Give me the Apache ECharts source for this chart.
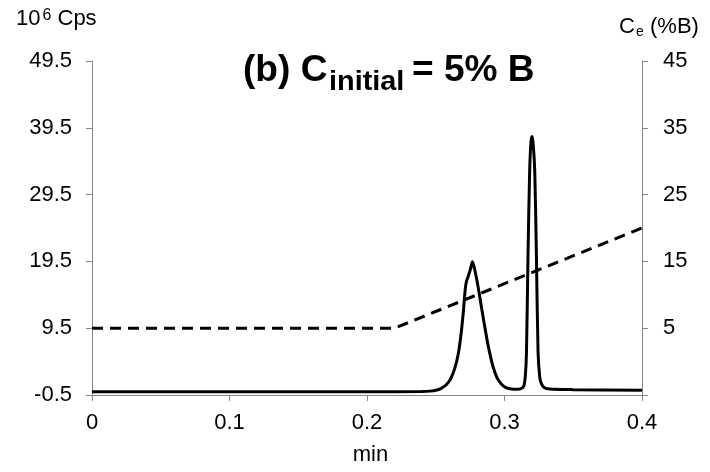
<!DOCTYPE html>
<html>
<head>
<meta charset="utf-8">
<script src="https://cdn.jsdelivr.net/npm/echarts@6/dist/echarts.min.js"></script>
<style>
  html, body { margin: 0; padding: 0; background: #fff; }
  #chart { width: 710px; height: 472px; }
</style>
</head>
<body>
<div id="chart"></div>
<script>
// Chromatogram (10^6 Cps vs min)
const timeMin = [0, 0.1, 0.2, 0.240, 0.246, 0.250, 0.254, 0.258, 0.261, 0.264, 0.2665, 0.2685, 0.2700, 0.2712, 0.2722, 0.2735, 0.2752, 0.2767, 0.2782, 0.2800, 0.2820, 0.2840, 0.2860, 0.2880, 0.2900, 0.2920, 0.2945, 0.2975, 0.3010, 0.3050, 0.3090, 0.3120, 0.3140, 0.3152, 0.3160, 0.3171, 0.3183, 0.3192, 0.3200, 0.3209, 0.3220, 0.3232, 0.3244, 0.3256, 0.3268, 0.3290, 0.3330, 0.3500, 0.4000];
const cps = [0, 0, 0, 0.02, 0.08, 0.2, 0.5, 1.1, 2.0, 3.6, 5.8, 8.8, 11.8, 14.8, 16.4, 17.2, 18.3, 19.45, 18.4, 16.6, 14.2, 11.7, 9.3, 7.0, 5.1, 3.5, 2.1, 1.2, 0.6, 0.4, 0.35, 0.45, 0.8, 2.5, 6.0, 20.5, 33.0, 37.3, 38.2, 37.0, 33.0, 20.5, 6.0, 2.2, 1.2, 0.6, 0.4, 0.3, 0.2];
// Gradient (Ce %B vs min)
const gradTime = [0, 0.22, 0.4];
const gradCe = [5, 5, 20];
// Tick labels
const xTicks = ['0', '0.1', '0.2', '0.3', '0.4'];
const leftTicks = ['-0.5', '9.5', '19.5', '29.5', '39.5', '49.5'];
const rightTicks = ['', '5', '15', '25', '35', '45'];

const FONT = 'Liberation Sans, Arial, sans-serif';
const chromData = timeMin.map((t, i) => [t, cps[i]]);
const gradData = gradTime.map((t, i) => [t, gradCe[i]]);

const axisLineStyle = { color: '#868686', width: 1 };

function txt(text, x, y, size, bold, sx) {
  return {
    type: 'text', x: x, y: y, scaleX: sx || 1, silent: true,
    style: { text: text, fill: '#000', font: (bold ? 'bold ' : '') + size + 'px ' + FONT,
      align: 'left', verticalAlign: 'middle' }
  };
}

const chart = echarts.init(document.getElementById('chart'), null, { renderer: 'canvas' });
chart.setOption({
  animation: false,
  backgroundColor: '#fff',
  graphic: [
    txt('(b) C', 243, 71.5, 36, true, 1.03),
    txt('initial', 329, 82, 28, true, 1.03),
    txt('= 5% B', 412, 71.5, 36, true, 1.03),
    txt('10', 16, 18.5, 22, false),
    txt('6', 42.5, 15.5, 16, false),
    txt('Cps', 57.5, 18.5, 22, false),
    txt('C', 619, 26.5, 22, false),
    txt('e', 636, 32, 14, false),
    txt('(%B)', 650, 26.5, 22, false)
  ],
  grid: { left: 92, right: 68, top: 61, bottom: 77, containLabel: false },
  xAxis: {
    type: 'value', min: 0, max: 0.4, interval: 0.1,
    name: 'min', nameLocation: 'middle', nameGap: 49,
    nameTextStyle: { fontFamily: FONT, fontSize: 22, color: '#000', padding: [0, 0, 0, 7] },
    axisLine: { show: true, onZero: false, lineStyle: axisLineStyle },
    axisTick: { show: true, length: 6, lineStyle: axisLineStyle },
    axisLabel: { fontFamily: FONT, fontSize: 22, color: '#000', margin: 17,
      formatter: (v) => xTicks[Math.round(v * 10)] },
    splitLine: { show: false }
  },
  yAxis: [
    {
      type: 'value', min: -0.5, max: 49.5, interval: 10, position: 'left',
      axisLine: { show: true, lineStyle: axisLineStyle },
      axisTick: { show: true, length: 6, lineStyle: axisLineStyle },
      axisLabel: { fontFamily: FONT, fontSize: 22, color: '#000', margin: 20,
        formatter: (v) => leftTicks[Math.round((v + 0.5) / 10)] },
      splitLine: { show: false }
    },
    {
      type: 'value', min: -5, max: 45, interval: 10, position: 'right',
      axisLine: { show: true, lineStyle: axisLineStyle },
      axisTick: { show: true, length: 6, lineStyle: axisLineStyle },
      axisLabel: { fontFamily: FONT, fontSize: 22, color: '#000', margin: 21,
        formatter: (v) => rightTicks[Math.round((v + 5) / 10)] },
      splitLine: { show: false }
    }
  ],
  series: [
    {
      type: 'line', yAxisIndex: 1, data: gradData, symbol: 'none',
      lineStyle: { color: '#000', width: 3, type: [11, 7] }, z: 2
    },
    {
      type: 'line', yAxisIndex: 0, data: chromData, symbol: 'none',
      smooth: 0.3,
      lineStyle: { color: '#000', width: 3 }, z: 3
    }
  ]
});
</script>
</body>
</html>
